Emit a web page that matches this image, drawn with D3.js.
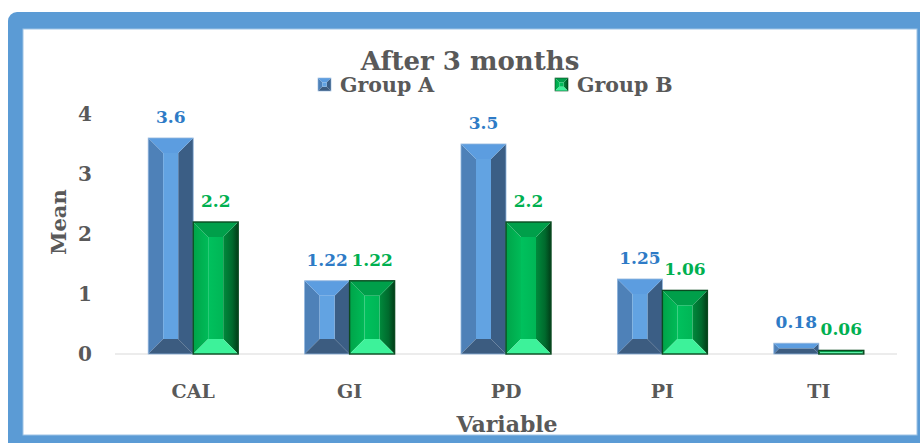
<!DOCTYPE html>
<html>
<head>
<meta charset="utf-8">
<script src="https://cdn.jsdelivr.net/npm/d3@7"></script>
<style>
  html, body { margin: 0; padding: 0; background: #ffffff; }
  svg { display: block; }
  text { font-family: "DejaVu Serif", "Liberation Serif", serif; font-weight: bold; }
</style>
</head>
<body>
<svg id="chart" width="920" height="443"></svg>
<script>
// Mean scores after 3 months, per variable and group
const categories = ["CAL", "GI", "PD", "PI", "TI"];
const groupA = [3.6, 1.22, 3.5, 1.25, 0.18];
const groupB = [2.2, 1.22, 2.2, 1.06, 0.06];
const seriesNames = ["Group A", "Group B"];
const yTicks = [0, 1, 2, 3, 4];

const svg = d3.select("#chart");
const W = 920, H = 443;
const textColor = "#595959";

// Frame: thick blue border around a white panel
svg.append("rect").attr("x", 8).attr("y", 12).attr("width", W + 10).attr("height", H + 10)
  .attr("rx", 9).attr("fill", "#5b9bd5");
svg.append("rect").attr("x", 23).attr("y", 29).attr("width", 894).attr("height", 406)
  .attr("fill", "#ffffff").attr("stroke", "#9dc3e6").attr("stroke-width", 1);

const defs = svg.append("defs");
function linGrad(id, stops, x2, y2) {
  const g = defs.append("linearGradient").attr("id", id)
    .attr("x1", 0).attr("y1", 0).attr("x2", x2).attr("y2", y2);
  stops.forEach(([o, c]) => g.append("stop").attr("offset", o).attr("stop-color", c));
}
linGrad("gLeft", [[0, "#00a449"], [1, "#00bb58"]], 1, 0);
linGrad("gRight", [[0, "#008a3c"], [0.6, "#006a2d"], [1, "#023d18"]], 1, 0);
linGrad("gCenter", [[0, "#00c15d"], [1, "#00b656"]], 1, 0);

// Bevel face colours for each series
const faces = [
  { left: "#4e81b8", right: "#3b5e85", top: "#5c9de0", bottom: "#3c5c80", center: "#62a3e2", stroke: "#8fb4dd", sw: 0.8 },
  { left: "url(#gLeft)", right: "url(#gRight)", top: "#009f4a", bottom: "#3df29a", center: "url(#gCenter)", stroke: "#0a4a20", sw: 1.4 }
];
const labelColors = ["#2e7bc6", "#00b050"];

// Scales
const x = d3.scaleBand().domain(categories).range([115, 897]).padding(0);
const xs = d3.scaleBand().domain([0, 1]).range([0, x.bandwidth()]).paddingInner(0).paddingOuter(0.738);
const y = d3.scaleLinear().domain([0, 4]).range([354, 114]);

// Category axis line
svg.append("line").attr("x1", x.range()[0]).attr("x2", x.range()[1])
  .attr("y1", y(0)).attr("y2", y(0)).attr("stroke", "#d9d9d9").attr("stroke-width", 1.2);

// Value axis tick labels (no axis line)
const yAxis = d3.axisLeft(y).tickValues(yTicks).tickSize(0).tickPadding(0).tickFormat(d3.format("d"));
const yG = svg.append("g").attr("transform", "translate(92,0)").call(yAxis);
yG.select(".domain").remove();
yG.selectAll("text").attr("fill", textColor).attr("font-size", 20)
  .attr("font-family", "DejaVu Serif").attr("font-weight", "bold")
  .attr("text-anchor", "middle").attr("dx", -7);

// Category labels
const xAxis = d3.axisBottom(x).tickSize(0).tickPadding(0);
const xG = svg.append("g").attr("transform", `translate(0,${y(0)})`).call(xAxis);
xG.select(".domain").remove();
xG.selectAll("text").attr("fill", textColor).attr("font-size", 19)
  .attr("font-family", "DejaVu Serif").attr("font-weight", "bold")
  .attr("dy", 0).attr("y", 44);

// Bevelled bar made of five faces
function bevelBar(g, x0, x1, y0, y1, f) {
  const w = x1 - x0, h = y1 - y0;
  const b = Math.min(15, w / 3, h / 2);
  const ix0 = x0 + b, ix1 = x1 - b, iy0 = y0 + b, iy1 = y1 - b;
  const poly = (pts, fill) => g.append("polygon")
    .attr("points", pts.map(p => p.join(",")).join(" ")).attr("fill", fill);
  poly([[x0, y0], [ix0, iy0], [ix0, iy1], [x0, y1]], f.left);
  poly([[x1, y0], [ix1, iy0], [ix1, iy1], [x1, y1]], f.right);
  poly([[x0, y0], [x1, y0], [ix1, iy0], [ix0, iy0]], f.top);
  poly([[x0, y1], [x1, y1], [ix1, iy1], [ix0, iy1]], f.bottom);
  g.append("rect").attr("x", ix0).attr("y", iy0)
    .attr("width", Math.max(0, ix1 - ix0)).attr("height", Math.max(0, iy1 - iy0)).attr("fill", f.center);
  g.append("rect").attr("x", x0).attr("y", y0).attr("width", w).attr("height", h)
    .attr("fill", "none").attr("stroke", f.stroke).attr("stroke-width", f.sw);
}

const series = [groupA, groupB];
series.forEach((vals, si) => {
  const g = svg.append("g").attr("class", "series-" + si);
  vals.forEach((v, i) => {
    const x0 = x(categories[i]) + xs(si);
    const x1 = x0 + xs.bandwidth();
    bevelBar(g, x0, x1, y(v), y(0), faces[si]);
    g.append("text")
      .attr("x", (x0 + x1) / 2).attr("y", y(v) - 15)
      .attr("text-anchor", "middle").attr("font-size", 17)
      .attr("fill", labelColors[si]).text(v);
  });
});

// Title
svg.append("text").attr("x", 470).attr("y", 70).attr("text-anchor", "middle")
  .attr("font-size", 26).attr("fill", textColor).text("After 3 months");

// Legend
const legendX = [318, 555];
seriesNames.forEach((name, si) => {
  const lg = svg.append("g").attr("transform", `translate(${legendX[si]},78)`);
  bevelBar(lg, 0, 13, 0, 13, Object.assign({}, faces[si], { sw: 0.6 }));
  lg.append("text").attr("x", 22).attr("y", 14).attr("font-size", 20.5)
    .attr("fill", textColor).text(name);
});

// Axis titles
svg.append("text").attr("transform", "translate(66,222) rotate(-90)")
  .attr("text-anchor", "middle").attr("font-size", 21).attr("fill", textColor).text("Mean");
svg.append("text").attr("x", 507).attr("y", 432).attr("text-anchor", "middle")
  .attr("font-size", 22).attr("fill", textColor).text("Variable");
</script>
</body>
</html>
